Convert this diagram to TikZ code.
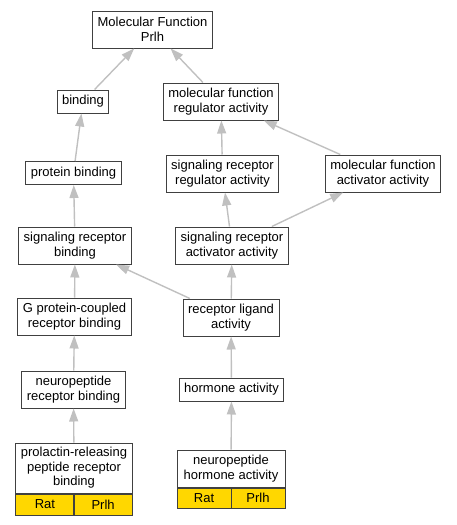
\documentclass[tikz,border=0pt]{standalone}
\usepackage{fontspec}
\setmainfont{Liberation Sans}
\usepackage{tikz}
\usetikzlibrary{arrows.meta}
\definecolor{genecol}{HTML}{FFD700}
\definecolor{edgecol}{HTML}{C0C0C0}
\definecolor{boxcol}{HTML}{404040}

\begin{document}
\begin{tikzpicture}[x=1pt,y=-1pt,
  term/.style={draw=boxcol, line width=1pt, fill=white, align=center, inner xsep=5pt, inner ysep=0pt,
    font=\fontsize{13}{14.5}\selectfont},
  one/.style={term, minimum height=23pt},
  two/.style={term, minimum height=37pt},
  cell/.style={draw=boxcol, line width=1pt, fill=genecol, inner sep=0pt, font=\fontsize{13}{14.5}\selectfont},
  isa/.style={draw=edgecol, line width=1.4pt, -{Triangle[length=13pt,width=9pt]}}]
\useasboundingbox (0,0) rectangle (456,525);
% terms
\node[two] (mf) at (152.5,29.5) {Molecular Function\\Prlh};
\node[one] (bind) at (83,101.5) {binding};
\node[two] (mfra) at (221,101.5) {molecular function\\regulator activity};
\node[one] (protbind) at (73.5,173) {protein binding};
\node[two] (srra) at (222.5,173.5) {signaling receptor\\regulator activity};
\node[two] (mfaa) at (383,173.5) {molecular function\\activator activity};
\node[two] (srb) at (75,245.5) {signaling receptor\\binding};
\node[two] (sraa) at (232,245.5) {signaling receptor\\activator activity};
\node[two] (gpcr) at (74.5,316.5) {G protein-coupled\\receptor binding};
\node[two] (rla) at (231,317.5) {receptor ligand\\activity};
\node[two] (nprb) at (73.5,389.5) {neuropeptide\\receptor binding};
\node[one] (horm) at (231.5,389.5) {hormone activity};
% annotated terms
\node[term, minimum width=116pt, minimum height=50pt] (prrb) at (74,468) {prolactin-releasing\\peptide receptor\\binding};
\node[cell, minimum width=58pt, minimum height=21pt, anchor=north west] (prrbrat) at (prrb.south west) {Rat};
\node[cell, minimum width=58pt, minimum height=21pt, anchor=north east] (prrbgene) at (prrb.south east) {Prlh};
\node[term, minimum width=108pt, minimum height=37pt] (nha) at (231,468.5) {neuropeptide\\hormone activity};
\node[cell, minimum width=54pt, minimum height=20pt, anchor=north west] (nharat) at (nha.south west) {Rat};
\node[cell, minimum width=54pt, minimum height=20pt, anchor=north east] (nhagene) at (nha.south east) {Prlh};
% edges
\draw[isa] (bind) -- (mf);
\draw[isa] (mfra) -- (mf);
\draw[isa] (protbind) -- (bind);
\draw[isa] (srra) -- (mfra);
\draw[isa] (mfaa) -- (mfra);
\draw[isa] (srb) -- (protbind);
\draw[isa] (sraa) -- (srra);
\draw[isa] (sraa) -- (mfaa);
\draw[isa] (rla) -- (sraa);
\draw[isa] (rla) -- (srb);
\draw[isa] (gpcr) -- (srb);
\draw[isa] (nprb) -- (gpcr);
\draw[isa] (horm) -- (rla);
\draw[isa] (prrb) -- (nprb);
\draw[isa] (nha) -- (horm);
\end{tikzpicture}
\end{document}
